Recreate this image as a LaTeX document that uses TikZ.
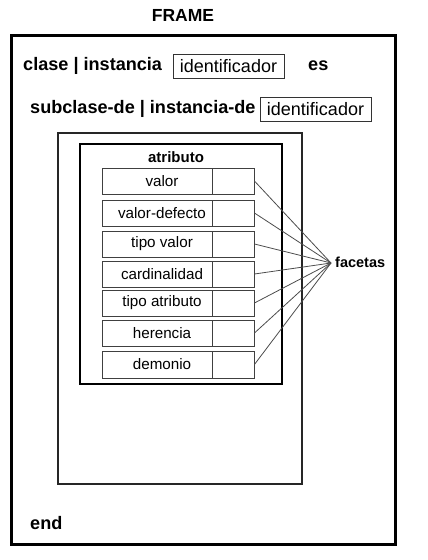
\documentclass[tikz,border=0pt]{standalone}
\usepackage{fontspec}
\setmainfont{Liberation Sans}
\begin{document}
\begin{tikzpicture}[x=1pt,y=-1pt,
  lbl/.style={font=\fontsize{18.1}{20}\selectfont\bfseries,inner sep=0pt,anchor=west},
  idbox/.style={draw=black!80,line width=1pt,inner sep=0pt,minimum width=111pt,minimum height=24pt,font=\fontsize{18}{20}\selectfont},
  rowcell/.style={draw=black!75,line width=0.9pt,inner sep=0pt,minimum height=26pt,font=\fontsize{15.2}{17}\selectfont},
  facet/.style={draw=black!70,line width=0.8pt}]
\useasboundingbox (0,0) rectangle (428,560);
% outer frame
\draw[line width=3pt] (11,35) rectangle (395,544);
\node[font=\fontsize{17.5}{20}\selectfont\bfseries,inner sep=0pt] (frame) at (183,15) {FRAME};
% header lines
\node[lbl] (clase) at (23,66) {clase | instancia};
\node[idbox] (id1) at (228.5,66.5) {identificador};
\node[lbl] (es) at (308,66) {es};
\node[lbl] (sub) at (30,109) {subclase-de | instancia-de};
\node[idbox] (id2) at (315.5,109.5) {identificador};
% middle box
\draw[line width=2pt,draw=black!85] (58,133) rectangle (302,484);
% atributo box
\draw[line width=2.5pt] (80,144) rectangle (282,384);
\node[font=\fontsize{15}{17}\selectfont\bfseries,inner sep=0pt] (atr) at (176,157) {atributo};
% rows
\foreach \i/\t/\yc/\h in {1/valor/181/26, 2/valor-defecto/213/26, 3/tipo valor/244/26, 4/cardinalidad/274/26, 5/tipo atributo/303/26, 6/herencia/333/26, 7/demonio/364.5/27} {
  \node[rowcell,minimum width=110pt,minimum height=\h pt] (r\i) at (157,\yc) {\hspace*{10pt}\t};
  \node[rowcell,minimum width=42pt,minimum height=\h pt] (c\i) at (233,\yc) {};
}
% facetas
\coordinate (fp) at (331,263);
\node[font=\fontsize{14.5}{17}\selectfont\bfseries,inner sep=0pt,anchor=west] (fac) at (335,262) {facetas};
\foreach \i in {1,...,7} {
  \draw[facet] (c\i.east) -- (fp);
}
\node[lbl] (end) at (30,523) {end};
\end{tikzpicture}
\end{document}
